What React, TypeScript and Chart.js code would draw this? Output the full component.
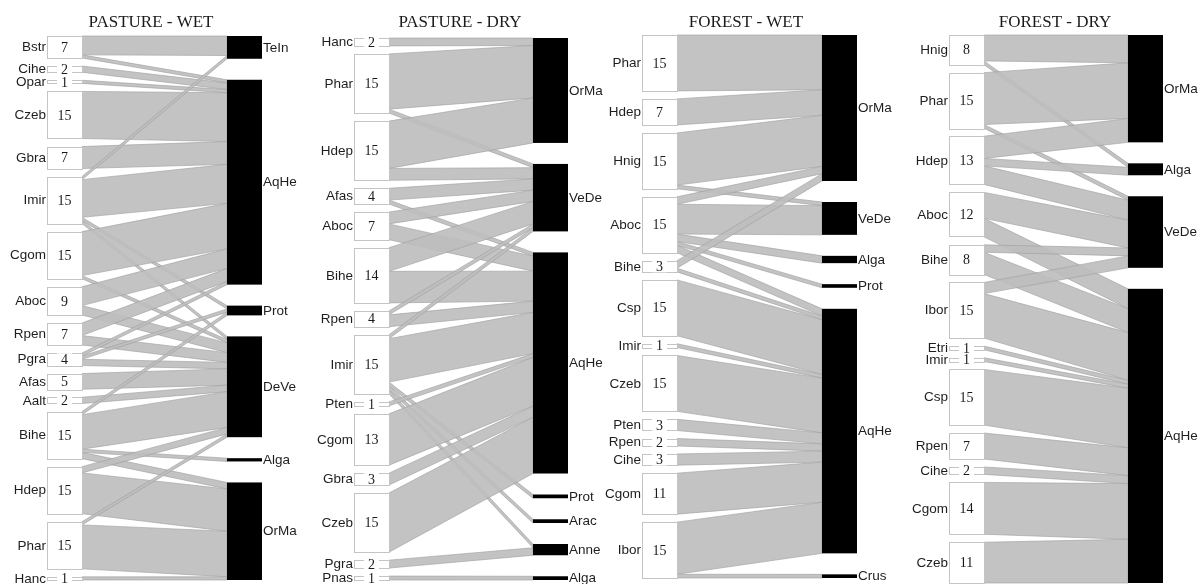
import { useEffect, useRef } from "react";
import { Chart, registerables } from "chart.js";

Chart.register(...registerables);

type Link = [string, string, number];

const panelTitles = ["PASTURE - WET", "PASTURE - DRY", "FOREST - WET", "FOREST - DRY"];

// PASTURE - WET
const pwSpecies = ["Bstr", "Cihe", "Opar", "Czeb", "Gbra", "Imir", "Cgom", "Aboc", "Rpen", "Pgra", "Afas", "Aalt", "Bihe", "Hdep", "Phar", "Hanc"];
const pwCounts = [7, 2, 1, 15, 7, 15, 15, 9, 7, 4, 5, 2, 15, 15, 15, 1];
const pwDiets = ["TeIn", "AqHe", "Prot", "DeVe", "Alga", "OrMa"];
const pwLinks: Link[] = [
  ["Bstr", "TeIn", 6], ["Bstr", "AqHe", 1],
  ["Cihe", "AqHe", 2],
  ["Opar", "AqHe", 1],
  ["Czeb", "AqHe", 15],
  ["Gbra", "AqHe", 7],
  ["Imir", "TeIn", 1], ["Imir", "AqHe", 12], ["Imir", "Prot", 1], ["Imir", "DeVe", 1],
  ["Cgom", "AqHe", 14], ["Cgom", "DeVe", 1],
  ["Aboc", "AqHe", 6], ["Aboc", "DeVe", 3],
  ["Rpen", "AqHe", 4], ["Rpen", "DeVe", 3],
  ["Pgra", "AqHe", 1], ["Pgra", "Prot", 1], ["Pgra", "DeVe", 2],
  ["Afas", "DeVe", 5],
  ["Aalt", "DeVe", 2],
  ["Bihe", "Prot", 1], ["Bihe", "DeVe", 11], ["Bihe", "Alga", 1], ["Bihe", "OrMa", 2],
  ["Hdep", "DeVe", 2], ["Hdep", "OrMa", 13],
  ["Phar", "DeVe", 1], ["Phar", "OrMa", 14],
  ["Hanc", "OrMa", 1],
];

// PASTURE - DRY
const pdSpecies = ["Hanc", "Phar", "Hdep", "Afas", "Aboc", "Bihe", "Rpen", "Imir", "Pten", "Cgom", "Gbra", "Czeb", "Pgra", "Pnas"];
const pdCounts = [2, 15, 15, 4, 7, 14, 4, 15, 1, 13, 3, 15, 2, 1];
const pdDiets = ["OrMa", "VeDe", "AqHe", "Prot", "Arac", "Anne", "Alga"];
const pdLinks: Link[] = [
  ["Hanc", "OrMa", 2],
  ["Phar", "OrMa", 14], ["Phar", "VeDe", 1],
  ["Hdep", "OrMa", 12], ["Hdep", "VeDe", 3],
  ["Afas", "VeDe", 3], ["Afas", "AqHe", 1],
  ["Aboc", "VeDe", 3], ["Aboc", "AqHe", 4],
  ["Bihe", "VeDe", 6], ["Bihe", "AqHe", 8],
  ["Rpen", "VeDe", 1], ["Rpen", "AqHe", 3],
  ["Imir", "VeDe", 1], ["Imir", "AqHe", 11], ["Imir", "Prot", 1], ["Imir", "Arac", 1], ["Imir", "Anne", 1],
  ["Pten", "AqHe", 1],
  ["Cgom", "AqHe", 13],
  ["Gbra", "AqHe", 3],
  ["Czeb", "AqHe", 15],
  ["Pgra", "Anne", 2],
  ["Pnas", "Alga", 1],
];

// FOREST - WET
const fwSpecies = ["Phar", "Hdep", "Hnig", "Aboc", "Bihe", "Csp", "Imir", "Czeb", "Pten", "Rpen", "Cihe", "Cgom", "Ibor"];
const fwCounts = [15, 7, 15, 15, 3, 15, 1, 15, 3, 2, 3, 11, 15];
const fwDiets = ["OrMa", "VeDe", "Alga", "Prot", "AqHe", "Crus"];
const fwLinks: Link[] = [
  ["Phar", "OrMa", 15],
  ["Hdep", "OrMa", 7],
  ["Hnig", "OrMa", 14], ["Hnig", "VeDe", 1],
  ["Aboc", "OrMa", 2], ["Aboc", "VeDe", 8], ["Aboc", "Alga", 2], ["Aboc", "Prot", 1], ["Aboc", "AqHe", 2],
  ["Bihe", "OrMa", 2], ["Bihe", "AqHe", 1],
  ["Csp", "AqHe", 15],
  ["Imir", "AqHe", 1],
  ["Czeb", "AqHe", 15],
  ["Pten", "AqHe", 3],
  ["Rpen", "AqHe", 2],
  ["Cihe", "AqHe", 3],
  ["Cgom", "AqHe", 11],
  ["Ibor", "AqHe", 14], ["Ibor", "Crus", 1],
];

// FOREST - DRY
const fdSpecies = ["Hnig", "Phar", "Hdep", "Aboc", "Bihe", "Ibor", "Etri", "Imir", "Csp", "Rpen", "Cihe", "Cgom", "Czeb"];
const fdCounts = [8, 15, 13, 12, 8, 15, 1, 1, 15, 7, 2, 14, 11];
const fdDiets = ["OrMa", "Alga", "VeDe", "AqHe"];
const fdLinks: Link[] = [
  ["Hnig", "OrMa", 7], ["Hnig", "Alga", 1],
  ["Phar", "OrMa", 14], ["Phar", "VeDe", 1],
  ["Hdep", "OrMa", 6], ["Hdep", "Alga", 2], ["Hdep", "VeDe", 5],
  ["Aboc", "VeDe", 7], ["Aboc", "AqHe", 5],
  ["Bihe", "VeDe", 2], ["Bihe", "AqHe", 6],
  ["Ibor", "VeDe", 3], ["Ibor", "AqHe", 12],
  ["Etri", "AqHe", 1],
  ["Imir", "AqHe", 1],
  ["Csp", "AqHe", 15],
  ["Rpen", "AqHe", 7],
  ["Cihe", "AqHe", 2],
  ["Cgom", "AqHe", 14],
  ["Czeb", "AqHe", 11],
];

const panels = [
  { title: panelTitles[0], species: pwSpecies, counts: pwCounts, diets: pwDiets, links: pwLinks },
  { title: panelTitles[1], species: pdSpecies, counts: pdCounts, diets: pdDiets, links: pdLinks },
  { title: panelTitles[2], species: fwSpecies, counts: fwCounts, diets: fwDiets, links: fwLinks },
  { title: panelTitles[3], species: fdSpecies, counts: fdCounts, diets: fdDiets, links: fdLinks },
];

// layout (page pixel units on the chart's linear scales)
const panelGeom = [
  { lx: 47, rx: 227, top: 36, bottom: 580, tx: 151 },
  { lx: 354, rx: 533, top: 38, bottom: 580, tx: 460 },
  { lx: 642, rx: 822, top: 35, bottom: 578, tx: 746 },
  { lx: 949, rx: 1128, top: 35, bottom: 583, tx: 1055 },
];
const BOX_W = 35;
const LEFT_GAP = 8;
const RIGHT_GAP = 21;
const W = 1203;
const H = 584;

function layoutColumn(values: number[], top: number, bottom: number, gap: number) {
  const total = values.reduce((a, b) => a + b, 0);
  const ky = (bottom - top - gap * (values.length - 1)) / total;
  let y = top;
  const pos = values.map((v) => {
    const y0 = y;
    const y1 = y + v * ky;
    y = y1 + gap;
    return { y0, y1 };
  });
  return { ky, pos };
}

const bipartitePlugin = {
  id: "bipartite",
  afterDatasetsDraw(chart: any) {
    const ctx: CanvasRenderingContext2D = chart.ctx;
    const xs = chart.scales.x;
    const ys = chart.scales.y;
    const X = (v: number) => xs.getPixelForValue(v);
    const Y = (v: number) => ys.getPixelForValue(v);
    ctx.save();
    panels.forEach((p, pi) => {
      const g = panelGeom[pi];
      const rightVals = p.diets.map((d) =>
        p.links.filter((l) => l[1] === d).reduce((s, l) => s + l[2], 0)
      );
      const L = layoutColumn(p.counts, g.top, g.bottom, LEFT_GAP);
      const R = layoutColumn(rightVals, g.top, g.bottom, RIGHT_GAP);
      const lOff = L.pos.map((q) => q.y0);
      const rOff = R.pos.map((q) => q.y0);
      const ks = p.links.map((l) => ({
        s: p.species.indexOf(l[0]),
        t: p.diets.indexOf(l[1]),
        v: l[2],
        ly0: 0, ly1: 0, ry0: 0, ry1: 0,
      }));
      [...ks].sort((a, b) => a.s - b.s || a.t - b.t).forEach((k) => {
        k.ly0 = lOff[k.s];
        k.ly1 = k.ly0 + k.v * L.ky;
        lOff[k.s] = k.ly1;
      });
      [...ks].sort((a, b) => a.t - b.t || a.s - b.s).forEach((k) => {
        k.ry0 = rOff[k.t];
        k.ry1 = k.ry0 + k.v * R.ky;
        rOff[k.t] = k.ry1;
      });

      // links
      const xl = X(g.lx + BOX_W);
      const xr = X(g.rx);
      ks.forEach((k) => {
        ctx.beginPath();
        ctx.moveTo(xl, Y(k.ly0));
        ctx.lineTo(xr, Y(k.ry0));
        ctx.lineTo(xr, Y(k.ry1));
        ctx.lineTo(xl, Y(k.ly1));
        ctx.closePath();
        ctx.fillStyle = "rgba(190,190,190,0.92)";
        ctx.fill();
        ctx.strokeStyle = "rgba(160,160,160,0.9)";
        ctx.lineWidth = 0.7;
        ctx.stroke();
      });

      // left boxes
      p.species.forEach((name, i) => {
        const q = L.pos[i];
        const x0 = X(g.lx), x1 = X(g.lx + BOX_W);
        const y0 = Y(q.y0), y1 = Y(q.y1);
        ctx.fillStyle = "#ffffff";
        ctx.fillRect(x0, y0, x1 - x0, y1 - y0);
        ctx.strokeStyle = "#c4c4c4";
        ctx.lineWidth = 1;
        ctx.strokeRect(Math.round(x0) + 0.5, Math.round(y0) + 0.5, Math.round(x1 - x0), Math.max(1, Math.round(y1 - y0)));
        const cy = (y0 + y1) / 2;
        // label
        ctx.font = "13.5px 'Liberation Sans', Arial, sans-serif";
        ctx.fillStyle = "#1e1e1e";
        ctx.textAlign = "right";
        ctx.textBaseline = "middle";
        ctx.fillText(name, x0 - 1, cy + 0.5);
        // count
        ctx.font = "14px 'Liberation Serif', 'Times New Roman', serif";
        const txt = String(p.counts[i]);
        const tw = ctx.measureText(txt).width;
        const cx = (x0 + x1) / 2;
        if (y1 - y0 < 13) {
          ctx.fillStyle = "#ffffff";
          ctx.fillRect(cx - tw / 2 - 4, cy - 6, tw + 8, 12);
        }
        ctx.fillStyle = "#1a1a1a";
        ctx.textAlign = "center";
        ctx.fillText(txt, cx, cy + 1);
      });

      // right boxes
      p.diets.forEach((name, j) => {
        const q = R.pos[j];
        const x0 = X(g.rx), x1 = X(g.rx + BOX_W);
        const y0 = Y(q.y0), y1 = Y(q.y1);
        ctx.fillStyle = "#000000";
        ctx.fillRect(x0, y0, x1 - x0, Math.max(2, y1 - y0));
        ctx.font = "13.5px 'Liberation Sans', Arial, sans-serif";
        ctx.fillStyle = "#1e1e1e";
        ctx.textAlign = "left";
        ctx.textBaseline = "middle";
        ctx.fillText(name, x1 + 1, (y0 + y1) / 2 + 0.5);
      });

      // title
      ctx.font = "17px 'Liberation Serif', 'Times New Roman', serif";
      ctx.fillStyle = "#1a1a1a";
      ctx.textAlign = "center";
      ctx.textBaseline = "alphabetic";
      ctx.fillText(p.title, X(g.tx), Y(27));
    });
    ctx.restore();
  },
};

export default function App() {
  const canvasRef = useRef<HTMLCanvasElement | null>(null);
  useEffect(() => {
    document.body.style.margin = "0";
    document.body.style.overflow = "hidden";
    document.body.style.background = "#ffffff";
    const canvas = canvasRef.current;
    if (!canvas) return;
    const chart = new Chart(canvas, {
      type: "scatter",
      data: { datasets: [{ data: [], showLine: false }] },
      options: {
        animation: false,
        responsive: false,
        maintainAspectRatio: false,
        layout: { padding: 0 },
        plugins: { legend: { display: false }, tooltip: { enabled: false }, title: { display: false } },
        scales: {
          x: { type: "linear", min: 0, max: W, display: false },
          y: { type: "linear", min: 0, max: H, reverse: true, display: false },
        },
      },
      plugins: [bipartitePlugin],
    } as any);
    return () => chart.destroy();
  }, []);
  return (
    <div style={{ width: W, height: H, background: "#fff" }}>
      <canvas ref={canvasRef} width={W} height={H} style={{ display: "block", width: W, height: H }} />
    </div>
  );
}
